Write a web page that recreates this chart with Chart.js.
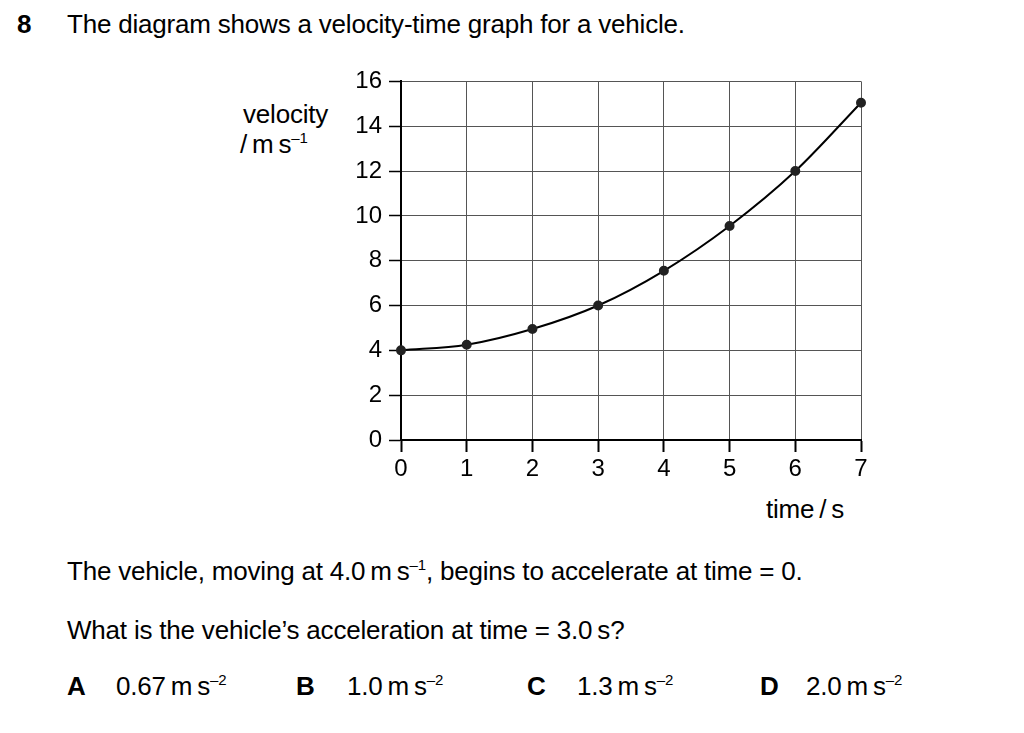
<!DOCTYPE html>
<html lang="en">
<head>
    <meta charset="UTF-8" />
    <style>
        body {
            margin: 0;
            width: 1024px;
            height: 733px;
            background: #fff;
            font-family: "Liberation Sans", Arial, sans-serif;
            color: #000;
            position: relative;
            overflow: hidden;
        }

        .t {
            position: absolute;
            font-size: 26px;
            white-space: nowrap;
            line-height: 1;
            letter-spacing: -0.2px;
        }

        .b { font-weight: bold; }

        sup {
            font-size: 15px;
            vertical-align: 10px;
            line-height: 0;
        }

        #wrap {
            position: absolute;
            left: 330px;
            top: 60px;
            width: 560px;
            height: 420px;
        }
    </style>
    <title>Velocity-time graph</title>
    <script src="https://cdn.jsdelivr.net/npm/chart.js"></script>
</head>

<body>
    <div class="t b" style="left:17px; top:11px;">8</div>
    <div class="t" style="left:67px; top:11px;">The diagram shows a velocity-time graph for a vehicle.</div>

    <div class="t" style="left:243px; top:101px;">velocity</div>
    <div class="t" style="left:240px; top:131px;">/&thinsp;m&thinsp;s<sup>–1</sup></div>
    <div class="t" style="left:766px; top:496px;">time&thinsp;/&thinsp;s</div>

    <div id="wrap"><canvas id="chart"></canvas></div>

    <div class="t" style="left:67px; top:558px;">The vehicle, moving at 4.0&thinsp;m&thinsp;s<sup>–1</sup>, begins to accelerate at time = 0.</div>
    <div class="t" style="left:67px; top:617px;">What is the vehicle’s acceleration at time = 3.0&thinsp;s?</div>

    <div class="t b" style="left:67px; top:673px;">A</div>
    <div class="t" style="left:116px; top:673px;">0.67&thinsp;m&thinsp;s<sup>–2</sup></div>
    <div class="t b" style="left:296px; top:673px;">B</div>
    <div class="t" style="left:347px; top:673px;">1.0&thinsp;m&thinsp;s<sup>–2</sup></div>
    <div class="t b" style="left:527px; top:673px;">C</div>
    <div class="t" style="left:577px; top:673px;">1.3&thinsp;m&thinsp;s<sup>–2</sup></div>
    <div class="t b" style="left:760px; top:673px;">D</div>
    <div class="t" style="left:806px; top:673px;">2.0&thinsp;m&thinsp;s<sup>–2</sup></div>

    <script>
        // time / s
        const times = [0, 1, 2, 3, 4, 5, 6, 7];
        // velocity / m s-1
        const velocities = [4.0, 4.25, 4.95, 6.0, 7.55, 9.55, 12.0, 15.05];

        const points = times.map((t, i) => ({ x: t, y: velocities[i] }));

        const tickFont = { family: 'Liberation Sans', size: 24 };

        const config = {
            type: 'line',
            data: {
                datasets: [{
                    data: points,
                    borderColor: '#000',
                    borderWidth: 2,
                    backgroundColor: '#222',
                    pointBackgroundColor: '#222',
                    pointBorderColor: '#222',
                    pointRadius: 4,
                    fill: false,
                    clip: false,
                    cubicInterpolationMode: 'monotone'
                }]
            },
            options: {
                responsive: true,
                maintainAspectRatio: false,
                animation: false,
                layout: {
                    padding: { left: 0, top: 20, right: 29, bottom: 0 }
                },
                plugins: {
                    legend: { display: false },
                    tooltip: { enabled: false }
                },
                scales: {
                    x: {
                        type: 'linear',
                        min: 0,
                        max: 7,
                        afterFit: scale => { scale.height = 40; },
                        ticks: {
                            stepSize: 1,
                            color: '#000',
                            padding: 3,
                            font: tickFont
                        },
                        grid: {
                            color: '#555',
                            lineWidth: 1,
                            tickLength: 12,
                            tickColor: '#000',
                            tickWidth: 2
                        },
                        border: { color: '#000', width: 2 }
                    },
                    y: {
                        min: 0,
                        max: 16,
                        afterFit: scale => { scale.width = 71; },
                        ticks: {
                            stepSize: 2,
                            color: '#000',
                            padding: 7,
                            font: tickFont
                        },
                        grid: {
                            color: '#555',
                            lineWidth: 1,
                            tickLength: 12,
                            tickColor: '#000',
                            tickWidth: 1.5
                        },
                        border: { color: '#000', width: 2 }
                    }
                }
            }
        };

        new Chart(document.getElementById('chart'), config);
    </script>
</body>
</html>
